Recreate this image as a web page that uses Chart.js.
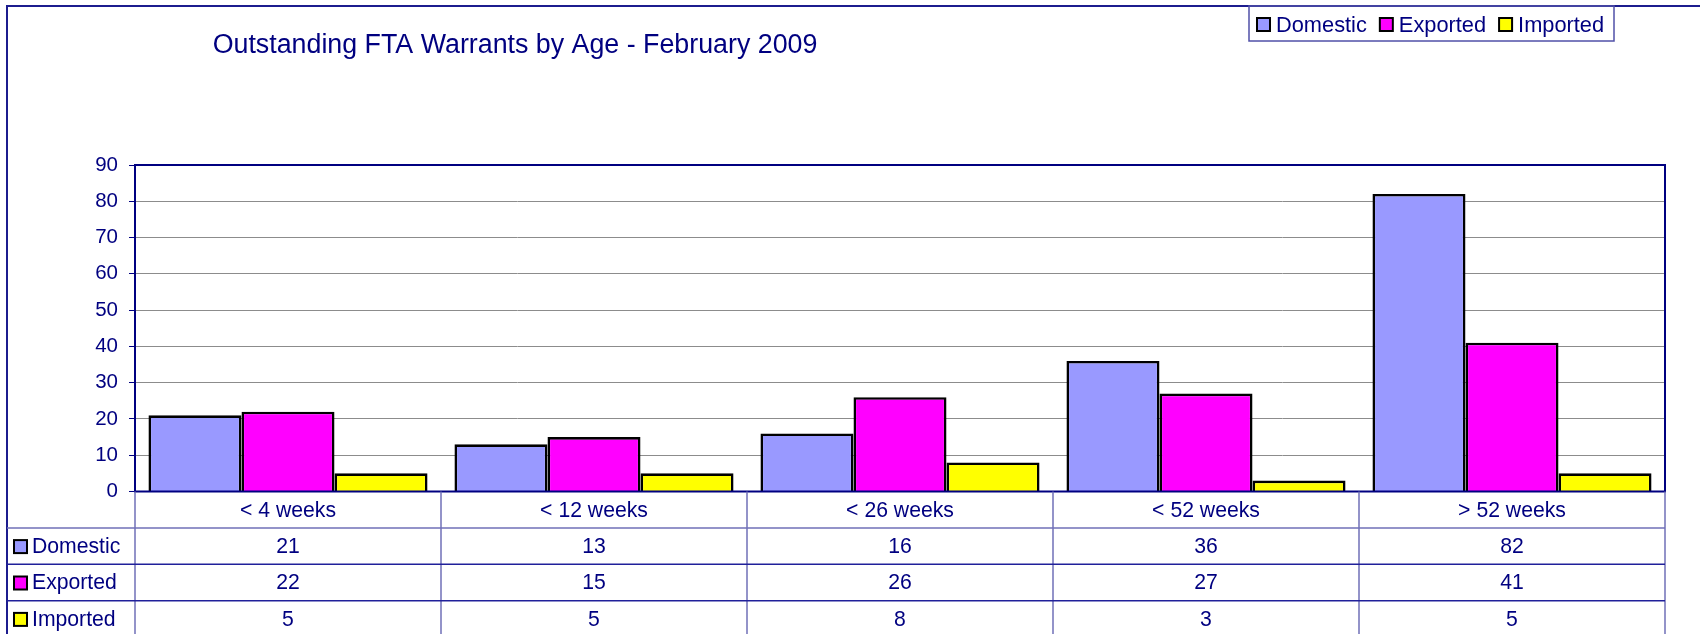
<!DOCTYPE html>
<html><head><meta charset="utf-8">
<script src="https://cdn.jsdelivr.net/npm/chart.js@4.4.1/dist/chart.umd.min.js"></script>
<style>html,body{margin:0;padding:0;background:#fff;overflow:hidden}canvas{display:block}</style>
</head><body>
<canvas id="c" width="1700" height="634"></canvas>
<script>
const chartTitle = 'Outstanding FTA Warrants by Age - February 2009';
const categories = ['< 4 weeks', '< 12 weeks', '< 26 weeks', '< 52 weeks', '> 52 weeks'];
const seriesNames = ['Domestic', 'Exported', 'Imported'];
const domestic = [21, 13, 16, 36, 82];
const exported = [22, 15, 26, 27, 41];
const imported = [5, 5, 8, 3, 5];
const yTickValues = [0, 10, 20, 30, 40, 50, 60, 70, 80, 90];

const NAVY = '#000080';
const FONT = '"Liberation Sans", Arial, sans-serif';

const decor = {
  id: 'decor',
  afterDatasetsDraw(chart) {
    const { ctx, chartArea: a } = chart;
    ctx.save();
    ctx.strokeStyle = NAVY;
    ctx.lineWidth = 2;
    ctx.strokeRect(a.left, a.top, a.right - a.left, a.bottom - a.top);
    ctx.restore();
  },
  afterDraw(chart) {
    const { ctx, chartArea: a, scales: { x } } = chart;
    const ds = chart.data.datasets;
    ctx.save();
    // outer frame
    ctx.strokeStyle = '#1c1c8e';
    ctx.lineWidth = 2;
    ctx.beginPath();
    ctx.moveTo(7, 640); ctx.lineTo(7, 6); ctx.lineTo(1705, 6);
    ctx.stroke();

    // title
    ctx.fillStyle = NAVY;
    ctx.font = '26.8px ' + FONT;
    ctx.textAlign = 'center';
    ctx.textBaseline = 'alphabetic';
    ctx.fillText(chartTitle, 515, 53);

    // legend
    ctx.strokeStyle = '#5050a8';
    ctx.lineWidth = 1.5;
    ctx.strokeRect(1249, 6, 365, 35);
    ctx.font = '21.8px ' + FONT;
    ctx.textAlign = 'left';
    let lx = 1256;
    ds.forEach(d => {
      ctx.fillStyle = d.backgroundColor;
      ctx.fillRect(lx + 1, 18, 13, 13);
      ctx.strokeStyle = '#000';
      ctx.lineWidth = 2;
      ctx.strokeRect(lx + 1, 18, 13, 13);
      ctx.fillStyle = NAVY;
      ctx.fillText(d.label, lx + 20, 31.5);
      lx += 20 + ctx.measureText(d.label).width + 12;
    });

    // data table
    const n = categories.length;
    const catW = (a.right - a.left) / n;
    const rowH = 36.4;
    const r0 = a.bottom;
    const bounds = [];
    for (let i = 0; i < n; i++) bounds.push(x.getPixelForValue(i) - catW / 2);
    bounds.push(a.right);

    ctx.lineWidth = 1.5;
    ctx.strokeStyle = '#7070b8';
    ctx.beginPath();
    bounds.forEach(bx => { ctx.moveTo(bx, r0); ctx.lineTo(bx, 640); });
    ctx.moveTo(7, r0 + rowH); ctx.lineTo(a.right, r0 + rowH);
    ctx.stroke();
    ctx.strokeStyle = '#20209a';
    ctx.beginPath();
    for (let k = 2; k <= 3; k++) { ctx.moveTo(7, r0 + rowH * k); ctx.lineTo(a.right, r0 + rowH * k); }
    ctx.stroke();

    ctx.font = '21.2px ' + FONT;
    ctx.textBaseline = 'middle';
    ctx.fillStyle = NAVY;
    ctx.textAlign = 'center';
    categories.forEach((c, i) => ctx.fillText(c, x.getPixelForValue(i), r0 + rowH / 2 + 1));
    ds.forEach((d, k) => {
      const cy = r0 + rowH * (k + 1) + rowH / 2 + 1;
      ctx.textAlign = 'center';
      ctx.fillStyle = NAVY;
      d.data.forEach((v, i) => ctx.fillText(String(v), x.getPixelForValue(i), cy));
      // row legend key
      ctx.fillStyle = d.backgroundColor;
      ctx.fillRect(14, cy - 7, 13, 13);
      ctx.strokeStyle = '#000';
      ctx.lineWidth = 2;
      ctx.strokeRect(14, cy - 7, 13, 13);
      ctx.fillStyle = NAVY;
      ctx.textAlign = 'left';
      ctx.fillText(d.label, 32, cy);
    });
    ctx.restore();
  }
};

new Chart(document.getElementById('c'), {
  type: 'bar',
  data: {
    labels: categories,
    datasets: [
      { label: seriesNames[0], data: domestic, backgroundColor: '#9999FF' },
      { label: seriesNames[1], data: exported, backgroundColor: '#FF00FF' },
      { label: seriesNames[2], data: imported, backgroundColor: '#FFFF00' }
    ]
  },
  options: {
    responsive: false,
    animation: false,
    devicePixelRatio: 1,
    events: [],
    layout: { padding: { top: 165, right: 35, bottom: 0, left: 0 } },
    datasets: { bar: { borderColor: '#000', borderWidth: 2.6, categoryPercentage: 0.912, barPercentage: 1.0 } },
    plugins: { legend: { display: false }, title: { display: false }, tooltip: { enabled: false } },
    scales: {
      x: {
        grid: { display: false },
        border: { display: false },
        ticks: { display: false },
        afterFit(s) { s.height = 142.5; }
      },
      y: {
        min: 0, max: 90,
        afterBuildTicks(s) { s.ticks = yTickValues.map(v => ({ value: v })); },
        afterFit(s) { s.width = 135; },
        border: { display: false },
        grid: { color: '#8c8c8c', lineWidth: 1, tickColor: NAVY, tickLength: 6, drawTicks: true },
        ticks: { color: NAVY, font: { family: FONT, size: 20.5 }, padding: 11 }
      }
    }
  },
  plugins: [decor]
});
</script>
</body></html>
